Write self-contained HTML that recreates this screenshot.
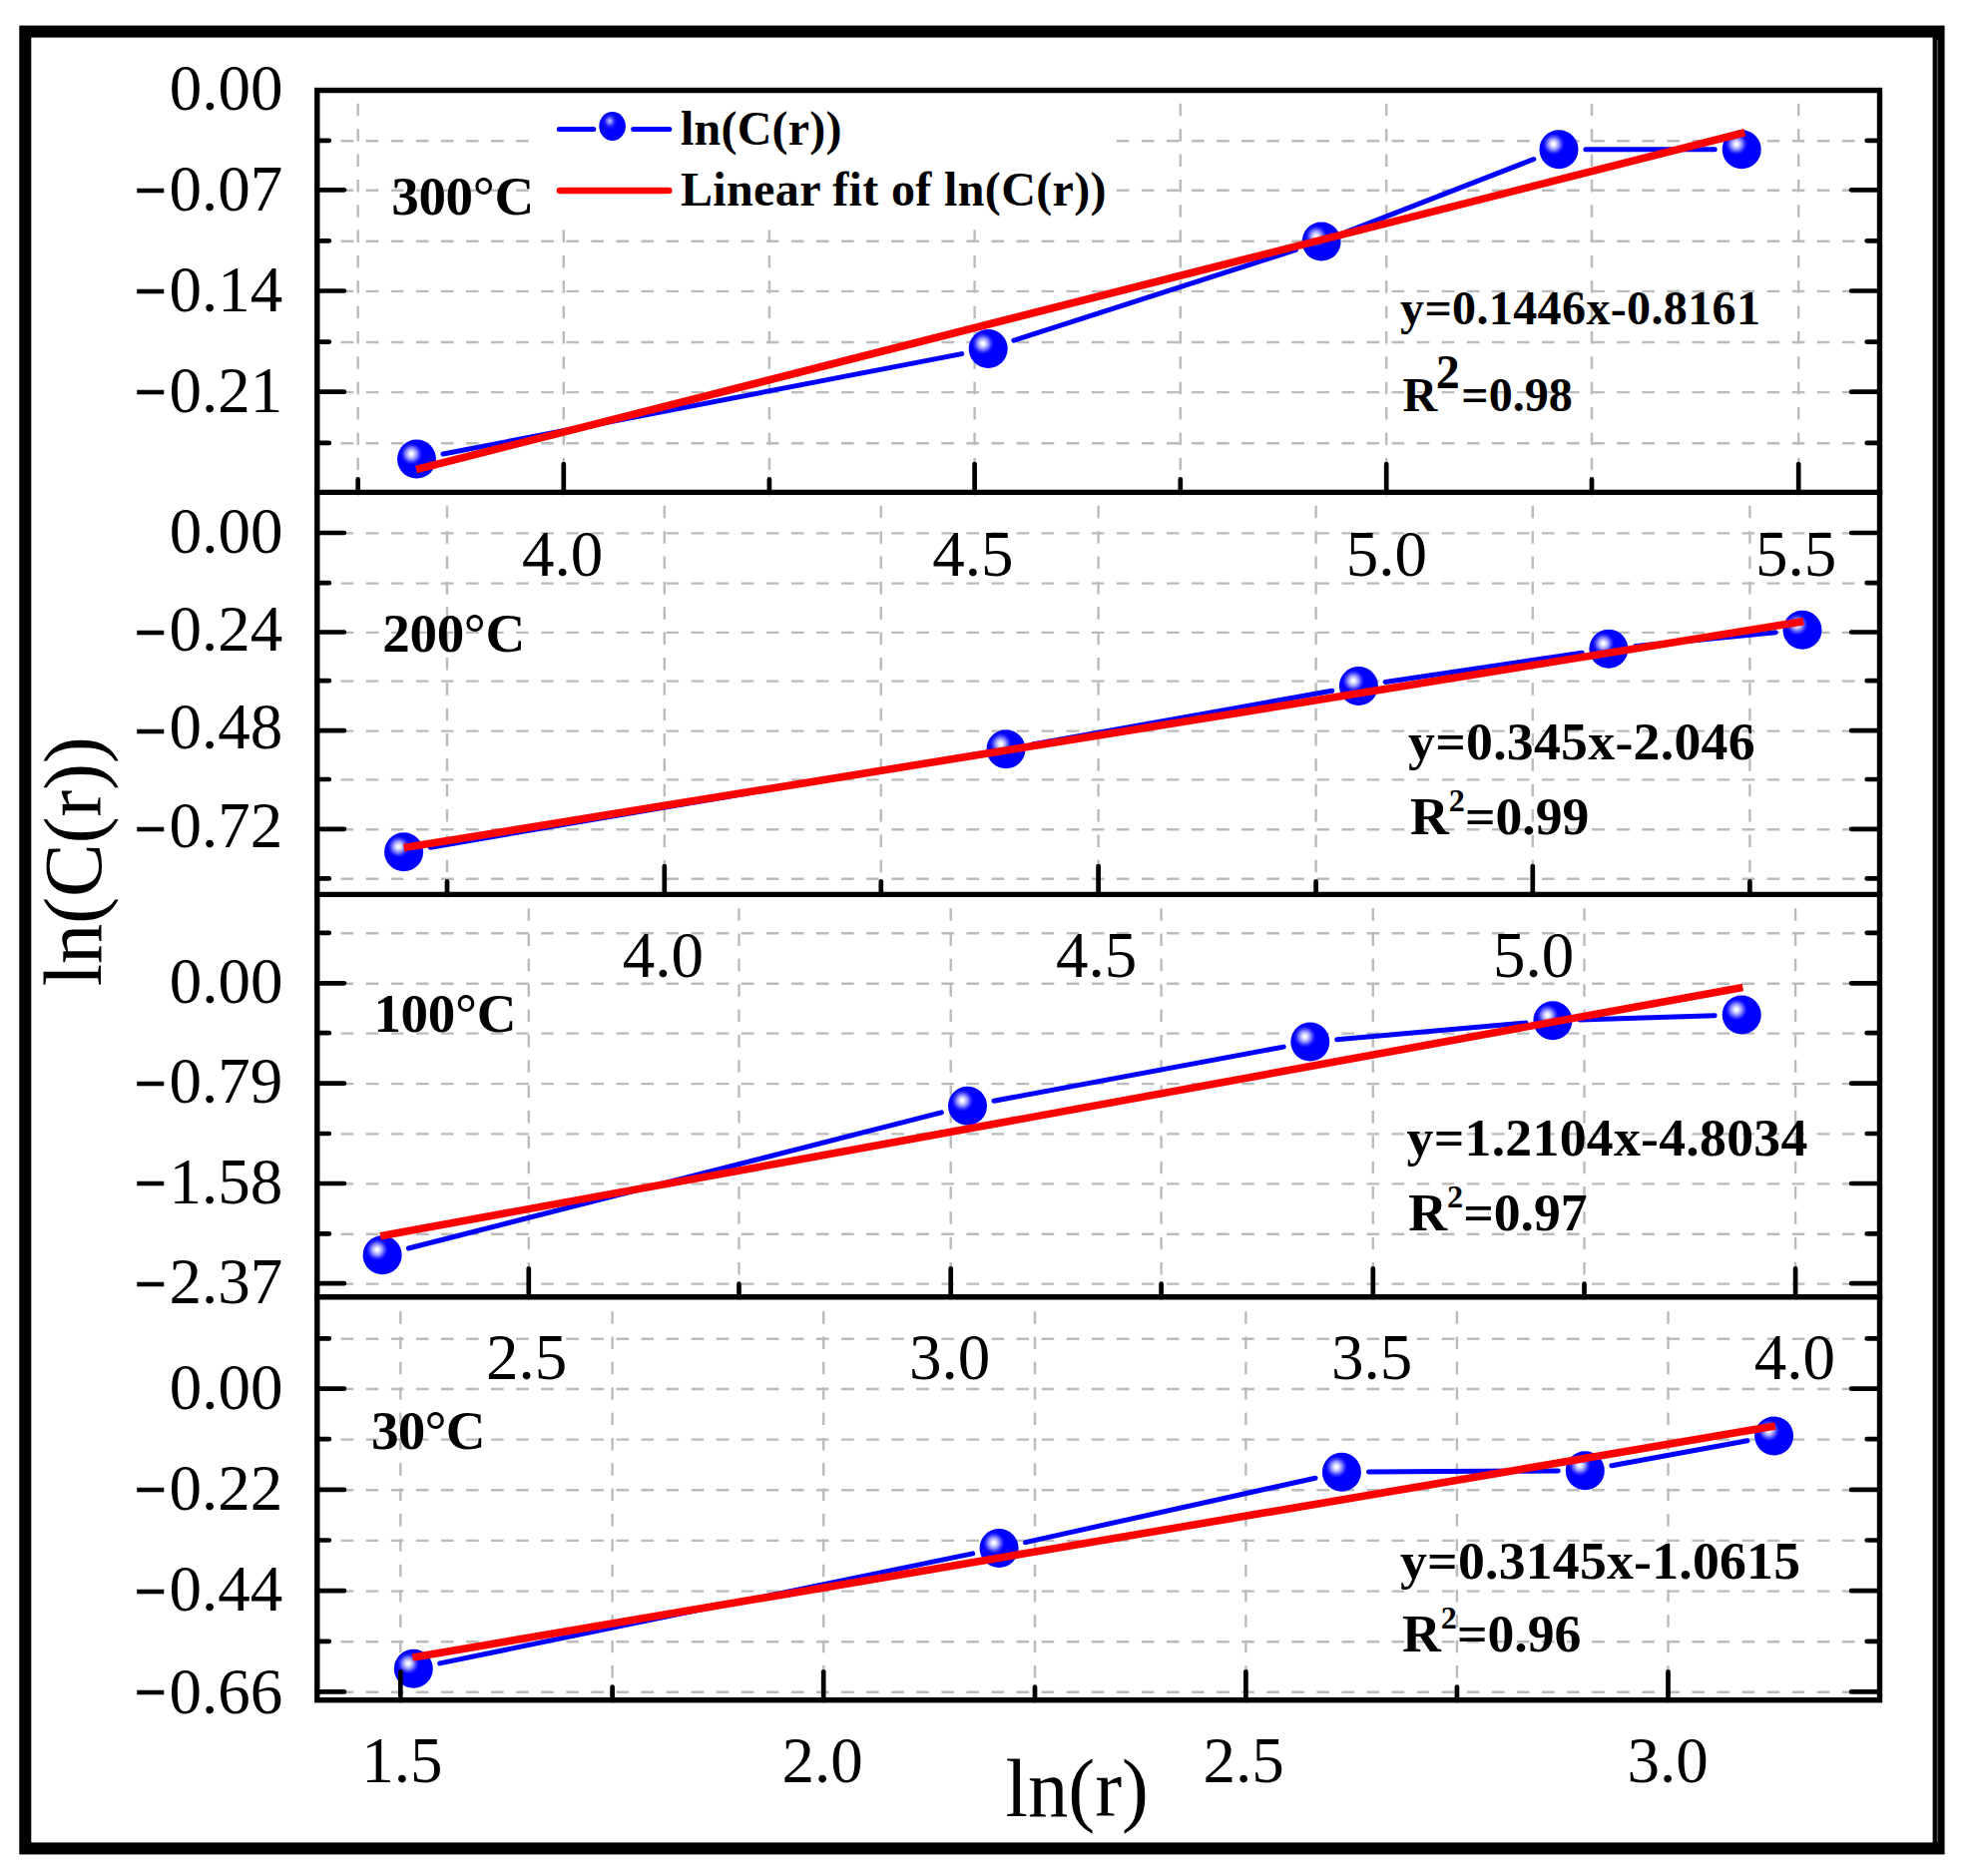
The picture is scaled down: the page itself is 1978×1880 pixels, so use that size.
<!DOCTYPE html>
<html lang="en"><head><meta charset="utf-8"><title>ln(C(r)) vs ln(r)</title>
<style>html,body{margin:0;padding:0;background:#fff;}body{width:1978px;height:1880px;overflow:hidden;}svg{display:block;}text{white-space:pre;}</style></head>
<body>
<svg width="1978" height="1880" viewBox="0 0 1978 1880">
<defs><radialGradient id="ball" cx="0.365" cy="0.365" r="0.6" fx="0.365" fy="0.365"><stop offset="0" stop-color="#ffffff"/><stop offset="0.07" stop-color="#f4f4ff"/><stop offset="0.22" stop-color="#9a9aff"/><stop offset="0.36" stop-color="#3030ff"/><stop offset="0.46" stop-color="#0000ff"/><stop offset="1" stop-color="#0000ff"/></radialGradient><radialGradient id="ball2" cx="0.4" cy="0.32" r="0.6"><stop offset="0" stop-color="#c8c8ff"/><stop offset="0.3" stop-color="#2020ff"/><stop offset="0.5" stop-color="#0000ff"/><stop offset="1" stop-color="#0000ff"/></radialGradient></defs>
<rect x="0" y="0" width="1978" height="1880" fill="#ffffff"/>
<g stroke="#bbbbbb" stroke-width="2.4" fill="none">
<line x1="316.6" y1="190.70000000000002" x2="1883.5" y2="190.70000000000002" stroke-dasharray="12.6 12.47"/>
<line x1="316.6" y1="291.9" x2="1883.5" y2="291.9" stroke-dasharray="12.6 12.47"/>
<line x1="316.6" y1="393.09999999999997" x2="1883.5" y2="393.09999999999997" stroke-dasharray="12.6 12.47"/>
<line x1="316.6" y1="141.20000000000002" x2="1883.5" y2="141.20000000000002" stroke-dasharray="12.6 12.47"/>
<line x1="316.6" y1="241.70000000000002" x2="1883.5" y2="241.70000000000002" stroke-dasharray="12.6 12.47"/>
<line x1="316.6" y1="343.0" x2="1883.5" y2="343.0" stroke-dasharray="12.6 12.47"/>
<line x1="316.6" y1="444.29999999999995" x2="1883.5" y2="444.29999999999995" stroke-dasharray="12.6 12.47"/>
<line x1="564.8" y1="496.59999999999997" x2="564.8" y2="94.2" stroke-dasharray="12.5 12.85"/>
<line x1="976.6" y1="496.59999999999997" x2="976.6" y2="94.2" stroke-dasharray="12.5 12.85"/>
<line x1="1389.2" y1="496.59999999999997" x2="1389.2" y2="94.2" stroke-dasharray="12.5 12.85"/>
<line x1="1802.2" y1="496.59999999999997" x2="1802.2" y2="94.2" stroke-dasharray="12.5 12.85"/>
<line x1="358.7" y1="496.59999999999997" x2="358.7" y2="94.2" stroke-dasharray="12.5 12.85"/>
<line x1="770.9" y1="496.59999999999997" x2="770.9" y2="94.2" stroke-dasharray="12.5 12.85"/>
<line x1="1182.8" y1="496.59999999999997" x2="1182.8" y2="94.2" stroke-dasharray="12.5 12.85"/>
<line x1="1595.0" y1="496.59999999999997" x2="1595.0" y2="94.2" stroke-dasharray="12.5 12.85"/>
<line x1="316.6" y1="534.4" x2="1883.5" y2="534.4" stroke-dasharray="12.6 12.47"/>
<line x1="316.6" y1="633.9" x2="1883.5" y2="633.9" stroke-dasharray="12.6 12.47"/>
<line x1="316.6" y1="732.6" x2="1883.5" y2="732.6" stroke-dasharray="12.6 12.47"/>
<line x1="316.6" y1="831.1999999999999" x2="1883.5" y2="831.1999999999999" stroke-dasharray="12.6 12.47"/>
<line x1="316.6" y1="584.6" x2="1883.5" y2="584.6" stroke-dasharray="12.6 12.47"/>
<line x1="316.6" y1="682.6" x2="1883.5" y2="682.6" stroke-dasharray="12.6 12.47"/>
<line x1="316.6" y1="781.4" x2="1883.5" y2="781.4" stroke-dasharray="12.6 12.47"/>
<line x1="316.6" y1="880.8" x2="1883.5" y2="880.8" stroke-dasharray="12.6 12.47"/>
<line x1="665.8" y1="899.6" x2="665.8" y2="497.09999999999997" stroke-dasharray="12.5 12.85"/>
<line x1="1100.6" y1="899.6" x2="1100.6" y2="497.09999999999997" stroke-dasharray="12.5 12.85"/>
<line x1="1535.8" y1="899.6" x2="1535.8" y2="497.09999999999997" stroke-dasharray="12.5 12.85"/>
<line x1="448.0" y1="899.6" x2="448.0" y2="497.09999999999997" stroke-dasharray="12.5 12.85"/>
<line x1="882.8" y1="899.6" x2="882.8" y2="497.09999999999997" stroke-dasharray="12.5 12.85"/>
<line x1="1318.6" y1="899.6" x2="1318.6" y2="497.09999999999997" stroke-dasharray="12.5 12.85"/>
<line x1="1753.4" y1="899.6" x2="1753.4" y2="497.09999999999997" stroke-dasharray="12.5 12.85"/>
<line x1="316.6" y1="985.6999999999999" x2="1883.5" y2="985.6999999999999" stroke-dasharray="12.6 12.47"/>
<line x1="316.6" y1="1086.1000000000001" x2="1883.5" y2="1086.1000000000001" stroke-dasharray="12.6 12.47"/>
<line x1="316.6" y1="1186.4" x2="1883.5" y2="1186.4" stroke-dasharray="12.6 12.47"/>
<line x1="316.6" y1="1286.6000000000001" x2="1883.5" y2="1286.6000000000001" stroke-dasharray="12.6 12.47"/>
<line x1="316.6" y1="935.1999999999999" x2="1883.5" y2="935.1999999999999" stroke-dasharray="12.6 12.47"/>
<line x1="316.6" y1="1035.6000000000001" x2="1883.5" y2="1035.6000000000001" stroke-dasharray="12.6 12.47"/>
<line x1="316.6" y1="1136.4" x2="1883.5" y2="1136.4" stroke-dasharray="12.6 12.47"/>
<line x1="316.6" y1="1236.8000000000002" x2="1883.5" y2="1236.8000000000002" stroke-dasharray="12.6 12.47"/>
<line x1="529.8" y1="1302.9" x2="529.8" y2="900.1" stroke-dasharray="12.5 12.85"/>
<line x1="952.7" y1="1302.9" x2="952.7" y2="900.1" stroke-dasharray="12.5 12.85"/>
<line x1="1375.8" y1="1302.9" x2="1375.8" y2="900.1" stroke-dasharray="12.5 12.85"/>
<line x1="1799.1" y1="1302.9" x2="1799.1" y2="900.1" stroke-dasharray="12.5 12.85"/>
<line x1="740.5" y1="1302.9" x2="740.5" y2="900.1" stroke-dasharray="12.5 12.85"/>
<line x1="1163.6" y1="1302.9" x2="1163.6" y2="900.1" stroke-dasharray="12.5 12.85"/>
<line x1="1587.5" y1="1302.9" x2="1587.5" y2="900.1" stroke-dasharray="12.5 12.85"/>
<line x1="316.6" y1="1392.0" x2="1883.5" y2="1392.0" stroke-dasharray="12.6 12.47"/>
<line x1="316.6" y1="1493.3000000000002" x2="1883.5" y2="1493.3000000000002" stroke-dasharray="12.6 12.47"/>
<line x1="316.6" y1="1594.6000000000001" x2="1883.5" y2="1594.6000000000001" stroke-dasharray="12.6 12.47"/>
<line x1="316.6" y1="1695.8000000000002" x2="1883.5" y2="1695.8000000000002" stroke-dasharray="12.6 12.47"/>
<line x1="316.6" y1="1341.8000000000002" x2="1883.5" y2="1341.8000000000002" stroke-dasharray="12.6 12.47"/>
<line x1="316.6" y1="1442.6000000000001" x2="1883.5" y2="1442.6000000000001" stroke-dasharray="12.6 12.47"/>
<line x1="316.6" y1="1543.9" x2="1883.5" y2="1543.9" stroke-dasharray="12.6 12.47"/>
<line x1="316.6" y1="1645.2" x2="1883.5" y2="1645.2" stroke-dasharray="12.6 12.47"/>
<line x1="401.3" y1="1706.9" x2="401.3" y2="1303.4" stroke-dasharray="12.5 12.85"/>
<line x1="825.2" y1="1706.9" x2="825.2" y2="1303.4" stroke-dasharray="12.5 12.85"/>
<line x1="1248.4" y1="1706.9" x2="1248.4" y2="1303.4" stroke-dasharray="12.5 12.85"/>
<line x1="1671.5" y1="1706.9" x2="1671.5" y2="1303.4" stroke-dasharray="12.5 12.85"/>
<line x1="613.6" y1="1706.9" x2="613.6" y2="1303.4" stroke-dasharray="12.5 12.85"/>
<line x1="1037.0" y1="1706.9" x2="1037.0" y2="1303.4" stroke-dasharray="12.5 12.85"/>
<line x1="1459.9" y1="1706.9" x2="1459.9" y2="1303.4" stroke-dasharray="12.5 12.85"/>
</g>
<rect x="531" y="92" width="587" height="138" fill="#fff"/>
<g stroke="#0000ff" stroke-width="5.0" stroke-linecap="round" fill="none">
<line x1="444.0" y1="455.0" x2="963.7" y2="354.6"/>
<line x1="1015.9" y1="341.2" x2="1298.4" y2="250.4"/>
<line x1="1349.3" y1="232.3" x2="1536.8" y2="159.5"/>
<line x1="1589.0" y1="149.7" x2="1718.2" y2="149.7"/>
<line x1="431.2" y1="849.2" x2="981.4" y2="755.2"/>
<line x1="1034.6" y1="745.9" x2="1334.8" y2="692.3"/>
<line x1="1388.1" y1="683.5" x2="1585.2" y2="654.2"/>
<line x1="1638.8" y1="647.6" x2="1779.1" y2="633.8"/>
<line x1="409.3" y1="1251.0" x2="943.3" y2="1114.9"/>
<line x1="996.0" y1="1103.2" x2="1286.3" y2="1049.1"/>
<line x1="1339.7" y1="1041.7" x2="1529.0" y2="1025.1"/>
<line x1="1582.9" y1="1021.9" x2="1718.2" y2="1017.8"/>
<line x1="440.7" y1="1666.9" x2="974.7" y2="1556.9"/>
<line x1="1027.5" y1="1545.6" x2="1318.0" y2="1481.2"/>
<line x1="1371.4" y1="1475.1" x2="1561.3" y2="1473.9"/>
<line x1="1614.9" y1="1468.8" x2="1751.0" y2="1443.8"/>
</g>
<circle cx="417.5" cy="460.1" r="19.5" fill="url(#ball)"/>
<circle cx="990.2" cy="349.5" r="19.5" fill="url(#ball)"/>
<circle cx="1324.1" cy="242.1" r="19.5" fill="url(#ball)"/>
<circle cx="1562.0" cy="149.7" r="19.5" fill="url(#ball)"/>
<circle cx="1745.2" cy="149.7" r="19.5" fill="url(#ball)"/>
<circle cx="404.6" cy="853.7" r="19.5" fill="url(#ball)"/>
<circle cx="1008.0" cy="750.7" r="19.5" fill="url(#ball)"/>
<circle cx="1361.4" cy="687.5" r="19.5" fill="url(#ball)"/>
<circle cx="1611.9" cy="650.2" r="19.5" fill="url(#ball)"/>
<circle cx="1806.0" cy="631.2" r="19.5" fill="url(#ball)"/>
<circle cx="383.1" cy="1257.7" r="19.5" fill="url(#ball)"/>
<circle cx="969.5" cy="1108.2" r="19.5" fill="url(#ball)"/>
<circle cx="1312.8" cy="1044.1" r="19.5" fill="url(#ball)"/>
<circle cx="1555.9" cy="1022.7" r="19.5" fill="url(#ball)"/>
<circle cx="1745.2" cy="1017.0" r="19.5" fill="url(#ball)"/>
<circle cx="414.3" cy="1672.3" r="19.5" fill="url(#ball)"/>
<circle cx="1001.1" cy="1551.5" r="19.5" fill="url(#ball)"/>
<circle cx="1344.4" cy="1475.3" r="19.5" fill="url(#ball)"/>
<circle cx="1588.3" cy="1473.7" r="19.5" fill="url(#ball)"/>
<circle cx="1777.6" cy="1438.9" r="19.5" fill="url(#ball)"/>
<g stroke="#ff0000" stroke-width="7.6" stroke-linecap="butt" fill="none">
<line x1="417.0" y1="470.5" x2="1748.4" y2="132.7"/>
<line x1="404.6" y1="849.6" x2="1807.2" y2="622.7"/>
<line x1="381.0" y1="1238.7" x2="1746.4" y2="989.4"/>
<line x1="413.5" y1="1661.0" x2="1778.8" y2="1429.1"/>
</g>
<g stroke="#000" stroke-width="4.7" fill="none" stroke-linecap="round">
<line x1="317.8" y1="190.3" x2="344.9" y2="190.3"/>
<line x1="1883.5" y1="190.3" x2="1855.1" y2="190.3"/>
<line x1="317.8" y1="291.5" x2="344.9" y2="291.5"/>
<line x1="1883.5" y1="291.5" x2="1855.1" y2="291.5"/>
<line x1="317.8" y1="392.7" x2="344.9" y2="392.7"/>
<line x1="1883.5" y1="392.7" x2="1855.1" y2="392.7"/>
<line x1="317.8" y1="140.8" x2="329.8" y2="140.8"/>
<line x1="1883.5" y1="140.8" x2="1870.7" y2="140.8"/>
<line x1="317.8" y1="241.3" x2="329.8" y2="241.3"/>
<line x1="1883.5" y1="241.3" x2="1870.7" y2="241.3"/>
<line x1="317.8" y1="342.6" x2="329.8" y2="342.6"/>
<line x1="1883.5" y1="342.6" x2="1870.7" y2="342.6"/>
<line x1="317.8" y1="443.9" x2="329.8" y2="443.9"/>
<line x1="1883.5" y1="443.9" x2="1870.7" y2="443.9"/>
<line x1="564.8" y1="491.9" x2="564.8" y2="465.0"/>
<line x1="976.6" y1="491.9" x2="976.6" y2="465.0"/>
<line x1="1389.2" y1="491.9" x2="1389.2" y2="465.0"/>
<line x1="1802.2" y1="491.9" x2="1802.2" y2="465.0"/>
<line x1="358.7" y1="491.9" x2="358.7" y2="480.4"/>
<line x1="770.9" y1="491.9" x2="770.9" y2="480.4"/>
<line x1="1182.8" y1="491.9" x2="1182.8" y2="480.4"/>
<line x1="1595.0" y1="491.9" x2="1595.0" y2="480.4"/>
<line x1="317.8" y1="534.0" x2="344.9" y2="534.0"/>
<line x1="1883.5" y1="534.0" x2="1855.1" y2="534.0"/>
<line x1="317.8" y1="633.5" x2="344.9" y2="633.5"/>
<line x1="1883.5" y1="633.5" x2="1855.1" y2="633.5"/>
<line x1="317.8" y1="732.2" x2="344.9" y2="732.2"/>
<line x1="1883.5" y1="732.2" x2="1855.1" y2="732.2"/>
<line x1="317.8" y1="830.8" x2="344.9" y2="830.8"/>
<line x1="1883.5" y1="830.8" x2="1855.1" y2="830.8"/>
<line x1="317.8" y1="584.2" x2="329.8" y2="584.2"/>
<line x1="1883.5" y1="584.2" x2="1870.7" y2="584.2"/>
<line x1="317.8" y1="682.2" x2="329.8" y2="682.2"/>
<line x1="1883.5" y1="682.2" x2="1870.7" y2="682.2"/>
<line x1="317.8" y1="781.0" x2="329.8" y2="781.0"/>
<line x1="1883.5" y1="781.0" x2="1870.7" y2="781.0"/>
<line x1="317.8" y1="880.4" x2="329.8" y2="880.4"/>
<line x1="1883.5" y1="880.4" x2="1870.7" y2="880.4"/>
<line x1="665.8" y1="894.9" x2="665.8" y2="868.0"/>
<line x1="1100.6" y1="894.9" x2="1100.6" y2="868.0"/>
<line x1="1535.8" y1="894.9" x2="1535.8" y2="868.0"/>
<line x1="448.0" y1="894.9" x2="448.0" y2="883.4"/>
<line x1="882.8" y1="894.9" x2="882.8" y2="883.4"/>
<line x1="1318.6" y1="894.9" x2="1318.6" y2="883.4"/>
<line x1="1753.4" y1="894.9" x2="1753.4" y2="883.4"/>
<line x1="317.8" y1="985.3" x2="344.9" y2="985.3"/>
<line x1="1883.5" y1="985.3" x2="1855.1" y2="985.3"/>
<line x1="317.8" y1="1085.7" x2="344.9" y2="1085.7"/>
<line x1="1883.5" y1="1085.7" x2="1855.1" y2="1085.7"/>
<line x1="317.8" y1="1186.0" x2="344.9" y2="1186.0"/>
<line x1="1883.5" y1="1186.0" x2="1855.1" y2="1186.0"/>
<line x1="317.8" y1="1286.2" x2="344.9" y2="1286.2"/>
<line x1="1883.5" y1="1286.2" x2="1855.1" y2="1286.2"/>
<line x1="317.8" y1="934.8" x2="329.8" y2="934.8"/>
<line x1="1883.5" y1="934.8" x2="1870.7" y2="934.8"/>
<line x1="317.8" y1="1035.2" x2="329.8" y2="1035.2"/>
<line x1="1883.5" y1="1035.2" x2="1870.7" y2="1035.2"/>
<line x1="317.8" y1="1136.0" x2="329.8" y2="1136.0"/>
<line x1="1883.5" y1="1136.0" x2="1870.7" y2="1136.0"/>
<line x1="317.8" y1="1236.4" x2="329.8" y2="1236.4"/>
<line x1="1883.5" y1="1236.4" x2="1870.7" y2="1236.4"/>
<line x1="529.8" y1="1298.2" x2="529.8" y2="1271.3"/>
<line x1="952.7" y1="1298.2" x2="952.7" y2="1271.3"/>
<line x1="1375.8" y1="1298.2" x2="1375.8" y2="1271.3"/>
<line x1="1799.1" y1="1298.2" x2="1799.1" y2="1271.3"/>
<line x1="740.5" y1="1298.2" x2="740.5" y2="1286.7"/>
<line x1="1163.6" y1="1298.2" x2="1163.6" y2="1286.7"/>
<line x1="1587.5" y1="1298.2" x2="1587.5" y2="1286.7"/>
<line x1="317.8" y1="1391.6" x2="344.9" y2="1391.6"/>
<line x1="1883.5" y1="1391.6" x2="1855.1" y2="1391.6"/>
<line x1="317.8" y1="1492.9" x2="344.9" y2="1492.9"/>
<line x1="1883.5" y1="1492.9" x2="1855.1" y2="1492.9"/>
<line x1="317.8" y1="1594.2" x2="344.9" y2="1594.2"/>
<line x1="1883.5" y1="1594.2" x2="1855.1" y2="1594.2"/>
<line x1="317.8" y1="1695.4" x2="344.9" y2="1695.4"/>
<line x1="1883.5" y1="1695.4" x2="1855.1" y2="1695.4"/>
<line x1="317.8" y1="1341.4" x2="329.8" y2="1341.4"/>
<line x1="1883.5" y1="1341.4" x2="1870.7" y2="1341.4"/>
<line x1="317.8" y1="1442.2" x2="329.8" y2="1442.2"/>
<line x1="1883.5" y1="1442.2" x2="1870.7" y2="1442.2"/>
<line x1="317.8" y1="1543.5" x2="329.8" y2="1543.5"/>
<line x1="1883.5" y1="1543.5" x2="1870.7" y2="1543.5"/>
<line x1="317.8" y1="1644.8" x2="329.8" y2="1644.8"/>
<line x1="1883.5" y1="1644.8" x2="1870.7" y2="1644.8"/>
<line x1="401.3" y1="1702.2" x2="401.3" y2="1675.3"/>
<line x1="825.2" y1="1702.2" x2="825.2" y2="1675.3"/>
<line x1="1248.4" y1="1702.2" x2="1248.4" y2="1675.3"/>
<line x1="1671.5" y1="1702.2" x2="1671.5" y2="1675.3"/>
<line x1="613.6" y1="1702.2" x2="613.6" y2="1690.7"/>
<line x1="1037.0" y1="1702.2" x2="1037.0" y2="1690.7"/>
<line x1="1459.9" y1="1702.2" x2="1459.9" y2="1690.7"/>
</g>
<g stroke="#000" stroke-width="5.4" fill="none" stroke-linecap="square">
<rect x="317.8" y="90.5" width="1565.7" height="1613.2"/>
<line x1="317.8" y1="493.4" x2="1883.5" y2="493.4"/>
<line x1="317.8" y1="896.4" x2="1883.5" y2="896.4"/>
<line x1="317.8" y1="1299.7" x2="1883.5" y2="1299.7"/>
</g>
<rect x="25.3" y="31.6" width="1917.3" height="1820.8" fill="none" stroke="#000" stroke-width="12"/>
<line x1="1941.3" y1="40" x2="1941.3" y2="1846" stroke="#8a8a8a" stroke-width="0.8"/>
<g font-family='"Liberation Serif", "Times New Roman", serif' font-size="65" fill="#000">
<text x="283.5" y="110.4" text-anchor="end">0.00</text>
<text x="285.8" y="211.0" text-anchor="end"><tspan font-weight="bold" font-size="57" stroke="#000" stroke-width="0.6" dx="-2.5" dy="-1.3">−</tspan><tspan dx="2.5" dy="1.3">0.07</tspan></text>
<text x="285.8" y="312.0" text-anchor="end"><tspan font-weight="bold" font-size="57" stroke="#000" stroke-width="0.6" dx="-2.5" dy="-1.1">−</tspan><tspan dx="2.5" dy="1.1">0.14</tspan></text>
<text x="285.8" y="413.2" text-anchor="end"><tspan font-weight="bold" font-size="57" stroke="#000" stroke-width="0.6" dx="-2.5" dy="-1.1">−</tspan><tspan dx="2.5" dy="1.1">0.21</tspan></text>
<text x="283.5" y="553.5" text-anchor="end">0.00</text>
<text x="285.8" y="652.0" text-anchor="end"><tspan font-weight="bold" font-size="57" stroke="#000" stroke-width="0.6" dx="-2.5" dy="0.9">−</tspan><tspan dx="2.5" dy="-0.9">0.24</tspan></text>
<text x="285.8" y="750.4" text-anchor="end"><tspan font-weight="bold" font-size="57" stroke="#000" stroke-width="0.6" dx="-2.5" dy="1.2">−</tspan><tspan dx="2.5" dy="-1.2">0.48</tspan></text>
<text x="285.8" y="849.3" text-anchor="end"><tspan font-weight="bold" font-size="57" stroke="#000" stroke-width="0.6" dx="-2.5" dy="0.9">−</tspan><tspan dx="2.5" dy="-0.9">0.72</tspan></text>
<text x="283.5" y="1005.0" text-anchor="end">0.00</text>
<text x="285.8" y="1105.0" text-anchor="end"><tspan font-weight="bold" font-size="57" stroke="#000" stroke-width="0.6" dx="-2.5" dy="0.1">−</tspan><tspan dx="2.5" dy="-0.1">0.79</tspan></text>
<text x="285.8" y="1205.5" text-anchor="end"><tspan font-weight="bold" font-size="57" stroke="#000" stroke-width="0.6" dx="-2.5" dy="-0.1">−</tspan><tspan dx="2.5" dy="0.1">1.58</tspan></text>
<text x="285.8" y="1305.5" text-anchor="end"><tspan font-weight="bold" font-size="57" stroke="#000" stroke-width="0.6" dx="-2.5" dy="0.1">−</tspan><tspan dx="2.5" dy="-0.1">2.37</tspan></text>
<text x="283.5" y="1411.5" text-anchor="end">0.00</text>
<text x="285.8" y="1512.5" text-anchor="end"><tspan font-weight="bold" font-size="57" stroke="#000" stroke-width="0.6" dx="-2.5" dy="-0.2">−</tspan><tspan dx="2.5" dy="0.2">0.22</tspan></text>
<text x="285.8" y="1614.0" text-anchor="end"><tspan font-weight="bold" font-size="57" stroke="#000" stroke-width="0.6" dx="-2.5" dy="-0.4">−</tspan><tspan dx="2.5" dy="0.4">0.44</tspan></text>
<text x="285.8" y="1716.5" text-anchor="end"><tspan font-weight="bold" font-size="57" stroke="#000" stroke-width="0.6" dx="-2.5" dy="-1.7">−</tspan><tspan dx="2.5" dy="1.7">0.66</tspan></text>
<text x="563.6" y="577.3" text-anchor="middle">4.0</text>
<text x="974.8" y="577.3" text-anchor="middle">4.5</text>
<text x="1389.4" y="577.3" text-anchor="middle">5.0</text>
<text x="1799.7" y="577.3" text-anchor="middle">5.5</text>
<text x="664.3" y="979.3" text-anchor="middle">4.0</text>
<text x="1098.6" y="979.3" text-anchor="middle">4.5</text>
<text x="1536.7" y="979.3" text-anchor="middle">5.0</text>
<text x="527.6" y="1382.0" text-anchor="middle">2.5</text>
<text x="951.5" y="1382.0" text-anchor="middle">3.0</text>
<text x="1374.6" y="1382.0" text-anchor="middle">3.5</text>
<text x="1798.3" y="1382.0" text-anchor="middle">4.0</text>
<text x="402.9" y="1785.5" text-anchor="middle">1.5</text>
<text x="824.2" y="1785.5" text-anchor="middle">2.0</text>
<text x="1246.0" y="1785.5" text-anchor="middle">2.5</text>
<text x="1671.0" y="1785.5" text-anchor="middle">3.0</text>
</g>
<text x="1007.6" y="1819.8" font-family='"Liberation Serif", "Times New Roman", serif' font-size="82" textLength="143.3" lengthAdjust="spacingAndGlyphs" fill="#000">ln(r)</text>
<text transform="translate(101.3 988.3) rotate(-90)" font-family='"Liberation Serif", "Times New Roman", serif' font-size="82" textLength="250.2" lengthAdjust="spacingAndGlyphs" fill="#000">ln(C(r))</text>
<text x="392.2" y="214.8" font-family='"Liberation Serif", "Times New Roman", serif' font-weight="bold" font-size="55.0" fill="#000" textLength="143" lengthAdjust="spacing">300°C</text>
<text x="383.3" y="653.0" font-family='"Liberation Serif", "Times New Roman", serif' font-weight="bold" font-size="55.0" fill="#000" textLength="143" lengthAdjust="spacing">200°C</text>
<text x="374.4" y="1034.0" font-family='"Liberation Serif", "Times New Roman", serif' font-weight="bold" font-size="55.0" fill="#000" textLength="143" lengthAdjust="spacing">100°C</text>
<text x="372.0" y="1451.8" font-family='"Liberation Serif", "Times New Roman", serif' font-weight="bold" font-size="55.0" fill="#000" textLength="114.5" lengthAdjust="spacing">30°C</text>
<text x="1403.0" y="325.1" font-family='"Liberation Serif", "Times New Roman", serif' font-weight="bold" font-size="48.0" fill="#000" textLength="361" lengthAdjust="spacing">y=0.1446x-0.8161</text>
<text x="1405.6" y="411.8" font-family='"Liberation Serif", "Times New Roman", serif' font-weight="bold" font-size="48.0" fill="#000">R<tspan font-size="48.0" dx="-1.5" dy="-23">2</tspan><tspan dx="1.6" dy="23">=0.98</tspan></text>
<text x="1411.0" y="760.9" font-family='"Liberation Serif", "Times New Roman", serif' font-weight="bold" font-size="53.7" fill="#000" textLength="347.5" lengthAdjust="spacing">y=0.345x-2.046</text>
<text x="1413.0" y="835.8" font-family='"Liberation Serif", "Times New Roman", serif' font-weight="bold" font-size="53.7" fill="#000">R<tspan font-size="32.2" dy="-22.9">2</tspan><tspan dy="22.9">=0.99</tspan></text>
<text x="1409.5" y="1157.5" font-family='"Liberation Serif", "Times New Roman", serif' font-weight="bold" font-size="53.7" fill="#000" textLength="401.8" lengthAdjust="spacing">y=1.2104x-4.8034</text>
<text x="1411.3" y="1232.6" font-family='"Liberation Serif", "Times New Roman", serif' font-weight="bold" font-size="53.7" fill="#000">R<tspan font-size="32.2" dy="-22.9">2</tspan><tspan dy="22.9">=0.97</tspan></text>
<text x="1403.0" y="1582.0" font-family='"Liberation Serif", "Times New Roman", serif' font-weight="bold" font-size="53.7" fill="#000" textLength="401" lengthAdjust="spacing">y=0.3145x-1.0615</text>
<text x="1405.0" y="1654.9" font-family='"Liberation Serif", "Times New Roman", serif' font-weight="bold" font-size="53.7" fill="#000">R<tspan font-size="32.2" dy="-22.9">2</tspan><tspan dy="22.9">=0.96</tspan></text>
<g stroke="#0000ff" stroke-width="5.0" stroke-linecap="round"><line x1="560.3" y1="129.5" x2="594.8" y2="129.5"/><line x1="634.7" y1="129.5" x2="670.8" y2="129.5"/></g>
<ellipse cx="613.6" cy="126.5" rx="13.3" ry="14.4" fill="url(#ball2)"/>
<line x1="561" y1="191" x2="670.2" y2="191" stroke="#ff0000" stroke-width="6.6" stroke-linecap="round"/>
<text x="682.0" y="144.8" font-family='"Liberation Serif", "Times New Roman", serif' font-weight="bold" font-size="48" fill="#000" textLength="161.5" lengthAdjust="spacing">ln(C(r))</text>
<text x="682.0" y="206.4" font-family='"Liberation Serif", "Times New Roman", serif' font-weight="bold" font-size="48" fill="#000" textLength="426.5" lengthAdjust="spacing">Linear fit of ln(C(r))</text>
</svg>
</body></html>
